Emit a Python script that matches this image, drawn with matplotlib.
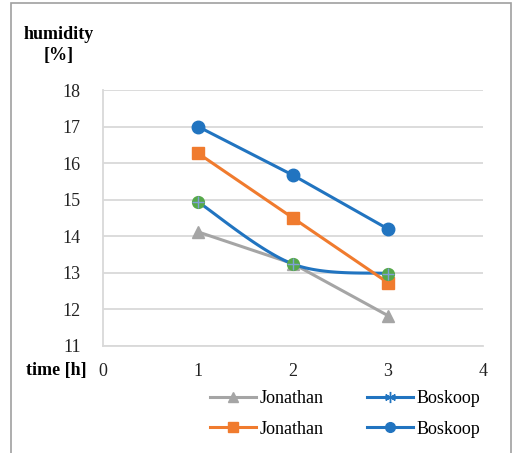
import numpy as np
import matplotlib
matplotlib.use("Agg")
import matplotlib.pyplot as plt
from matplotlib.patches import Rectangle
from matplotlib.lines import Line2D

plt.rcParams['font.family'] = ['Liberation Serif', 'DejaVu Serif']

# data
hours = [1, 2, 3]
jonathan_a = [14.12, 13.25, 11.83]
boskoop_a = [14.94, 13.24, 12.98]
jonathan_b = [16.27, 14.5, 12.73]
boskoop_b = [17.0, 15.67, 14.2]
series_names = ["Jonathan", "Boskoop", "Jonathan", "Boskoop"]

BLUE = "#2174C0"
ORANGE = "#F07B2E"
GRAY = "#A5A5A5"
GREEN = "#56A84A"
GRID = "#D9D9D9"


def smooth(xs, ys, n=40):
    # catmull-rom curve through the points (like excel "smoothed line")
    p = np.column_stack([xs, ys]).astype(float)
    p = np.vstack([p[0], p, p[-1]])
    out = []
    for i in range(1, len(p) - 2):
        p0, p1, p2, p3 = p[i - 1], p[i], p[i + 1], p[i + 2]
        t = np.linspace(0, 1, n)[:, None]
        seg = 0.5 * ((2 * p1) + (-p0 + p2) * t
                     + (2 * p0 - 5 * p1 + 4 * p2 - p3) * t ** 2
                     + (-p0 + 3 * p1 - 3 * p2 + p3) * t ** 3)
        out.append(seg)
    c = np.vstack(out)
    return c[:, 0], c[:, 1]


fig = plt.figure(figsize=(5.13, 4.53), dpi=100)
ax = fig.add_axes([103 / 513, 1 - 346 / 453, 380 / 513, 256 / 453])

# outer frame of the chart
fig.patches.append(Rectangle((11 / 513, -0.05), 500 / 513, 1.05 - 3 / 453,
                             transform=fig.transFigure, fill=False,
                             edgecolor="#A0A0A0", linewidth=1.2))

lw = 2.2
ax.plot(hours, jonathan_a, color=GRAY, lw=lw, marker="^", ms=9, zorder=3)
sx, sy = smooth(hours, boskoop_a)
ax.plot(sx, sy, color=BLUE, lw=lw, zorder=3)
ax.plot(hours, boskoop_a, ls="none", marker="o", ms=8.5, color=GREEN, zorder=4)
ax.plot(hours, boskoop_a, ls="none", marker="+", ms=8, color="#7FA0D8", mew=1, zorder=5)
ax.plot(hours, jonathan_b, color=ORANGE, lw=lw, marker="s", ms=8.5, zorder=3)
ax.plot(hours, boskoop_b, color=BLUE, lw=lw, marker="o", ms=9, zorder=3)

ax.set_xlim(0, 4)
ax.set_ylim(11, 18)
ax.set_xticks(range(0, 5))
ax.set_yticks(range(11, 19))
ax.yaxis.grid(True, color=GRID, lw=1.3)
ax.set_axisbelow(True)
for s in ["top", "right"]:
    ax.spines[s].set_visible(False)
for s in ["left", "bottom"]:
    ax.spines[s].set_color(GRID)
    ax.spines[s].set_linewidth(1.3)
ax.tick_params(length=0, labelsize=13, colors="#222222")
ax.tick_params(axis="y", pad=16)
ax.tick_params(axis="x", pad=12)

fig.text(59 / 513, 1 - 45 / 453, "humidity\n[%]", ha="center", va="center",
         fontsize=13, fontweight="bold", linespacing=1.25)
fig.text(56 / 513, 1 - 370 / 453, "time [h]", ha="center", va="center",
         fontsize=13, fontweight="bold")

handles = [
    Line2D([], [], color=GRAY, lw=lw, marker="^", ms=7),
    Line2D([], [], color=ORANGE, lw=lw, marker="s", ms=7),
    Line2D([], [], color=BLUE, lw=lw, marker=(6, 2, 0), ms=8, mew=1),
    Line2D([], [], color=BLUE, lw=lw, marker="o", ms=7),
]
labels = [series_names[0], series_names[2], series_names[1], series_names[3]]
fig.legend(handles, labels, ncol=2, loc="center", frameon=False,
           bbox_to_anchor=(345 / 513, 1 - 414 / 453), fontsize=13,
           handlelength=2.55, handletextpad=0.2, columnspacing=2.4,
           labelspacing=0.75)

fig.savefig("out.png", dpi=100)
